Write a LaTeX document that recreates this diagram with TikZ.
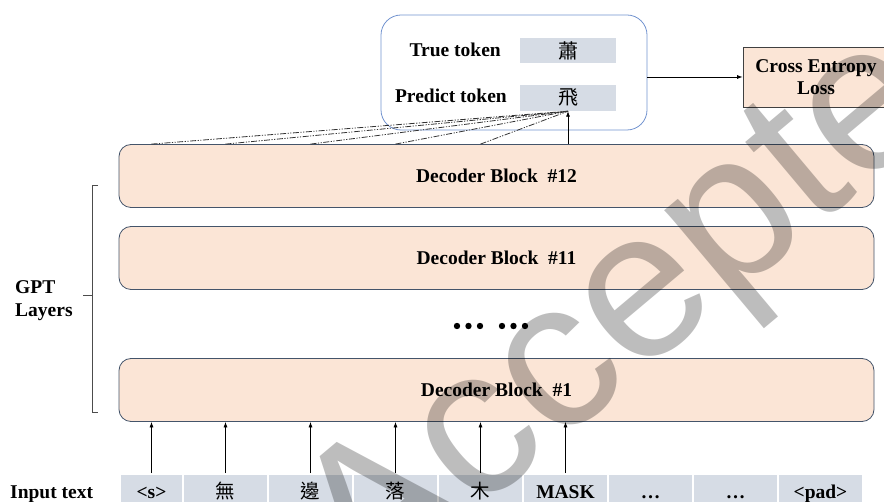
\documentclass[tikz,border=0pt]{standalone}
\usepackage{fontspec}
\setmainfont{Liberation Serif}
\newfontfamily\cjk{Noto Sans CJK TC}
\newfontfamily\wmfont{Liberation Sans}
\usetikzlibrary{arrows.meta,calc}
\definecolor{peach}{HTML}{FBE5D6}
\definecolor{slate}{HTML}{44546A}
\definecolor{cellblue}{HTML}{D6DCE5}
\definecolor{boxblue}{RGB}{114,147,207}
\definecolor{cebord}{HTML}{404040}
\begin{document}
\begin{tikzpicture}[x=1pt,y=-1pt,
  font=\bfseries\fontsize{19.5}{23}\selectfont,
  decblock/.style={draw=slate, fill=peach, rounded corners=12pt, line width=0.8pt,
    minimum width=755pt, minimum height=63pt, inner sep=0pt},
  tokcell/.style={fill=cellblue, minimum width=96pt, minimum height=25pt, inner sep=0pt,
    font=\cjk\fontsize{20}{22}\selectfont},
  incell/.style={fill=cellblue, draw=white, line width=1.5pt, minimum height=40pt,
    inner sep=0pt, text height=14pt, text depth=4pt},
  arr/.style={-{Latex[length=5.5pt,width=4pt]}, line width=0.7pt, black},
  dd/.style={line width=0.8pt, black!80,
    dash pattern=on 6pt off 1.5pt on 1.2pt off 1.5pt on 1.2pt off 1.5pt},
  wm/.style={font=\wmfont\fontsize{210}{210}\selectfont, text=black, text opacity=0.26}
]
\useasboundingbox (0,0) rectangle (884,502);

% decoder blocks
\node[decblock] (b12) at (496.5,176) {Decoder Block\ \ \#12};
\node[decblock] (b11) at (496.5,258) {Decoder Block\ \ \#11};
\node[decblock] (b1)  at (496.5,390) {Decoder Block\ \ \#1};
\foreach \x in {457,468.5,480,502,513.5,525} \fill (\x,326) circle (3.2pt);

% top box
\node[draw=boxblue, line width=0.8pt, rounded corners=20pt, minimum width=266pt,
  minimum height=115pt] (tb) at (514,72.5) {};
\node[tokcell] (tc) at (568,50.5) {蕭};
\node[tokcell, minimum height=26pt] (pc) at (568,98) {飛};
\node[anchor=base east, inner sep=0pt] (tl) at (501,57) {True token};
\node[anchor=base east, inner sep=0pt] (pl) at (507,103) {Predict token};

% cross entropy
\node[draw=cebord, line width=0.8pt, fill=peach, minimum width=146pt, minimum height=60pt,
  align=center, inner sep=0pt, font=\bfseries\fontsize{19.5}{21.5}\selectfont] (ce) at (816,77)
  {Cross Entropy\\Loss};
\draw[arr] (tb.east |- ce.west) -- (ce.west);

% input row
\node[incell, minimum width=63pt] (in1) at (151.5,494) {\textless s\textgreater};
\node[incell, minimum width=85pt] (in2) at (225.5,494) {\cjk\mdseries 無};
\node[incell, minimum width=85pt] (in3) at (310.5,494) {\cjk\mdseries 邊};
\node[incell, minimum width=85pt] (in4) at (395.5,494) {\cjk\mdseries 落};
\node[incell, minimum width=85pt] (in5) at (480.5,494) {\cjk\mdseries 木};
\node[incell, minimum width=85pt] (in6) at (565.5,494) {MASK};
\node[incell, minimum width=85pt] (in7) at (650.5,494) {…};
\node[incell, minimum width=85pt] (in8) at (735.5,494) {…};
\node[incell, minimum width=85pt] (in9) at (820.5,494) {\textless pad\textgreater};
\node[anchor=base west, inner sep=0pt] (inlab) at (10,499) {Input text};

\foreach \i in {1,...,6} \draw[arr] (in\i.north) -- (in\i.north |- b1.south);

% prediction arrow and attention lines
\draw[arr] (pc.south |- b12.north) -- (pc.south);
\foreach \i in {1,...,5} \draw[dd] (in\i.north |- b12.north) -- (pc.south);

% GPT layers bracket
\draw[line width=0.7pt, black!70] (98,185) -- (92,185) -- (92,412) -- (98,412);
\draw[line width=0.7pt, black!70] (92,295) -- (83,295);
\node[anchor=west, align=left, inner sep=0pt] (gpt) at (15,301) {GPT\\Layers};

% watermark
\node[wm, rotate=40] (wmk) at (668,282) {Accepted};
\end{tikzpicture}
\end{document}
